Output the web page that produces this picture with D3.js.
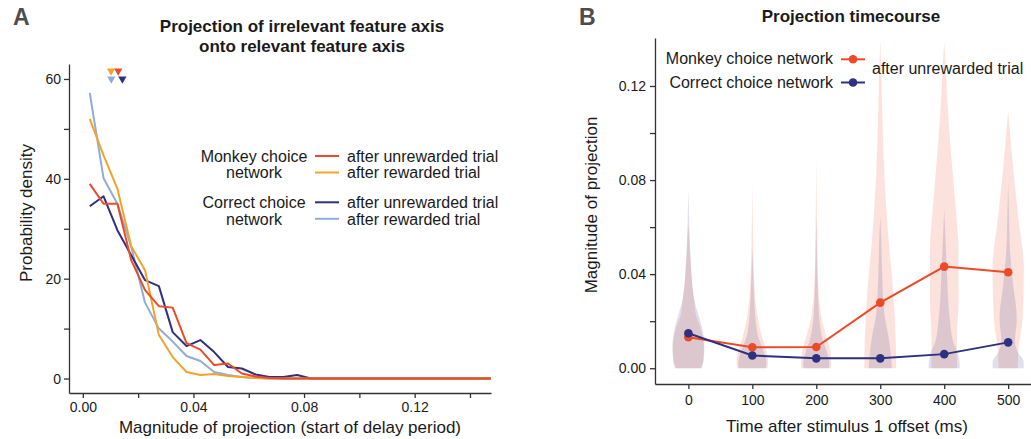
<!DOCTYPE html>
<html>
<head>
<meta charset="utf-8">
<script src="https://cdn.jsdelivr.net/npm/d3@7"></script>
<style>
  body { margin: 0; background: #fff; }
  text { font-family: "Liberation Sans", Arial, sans-serif; fill: #1a1a1a; }
  .axis .domain, .axis line { stroke: #333; stroke-width: 1.3; }
  .axis text { font-size: 14px; fill: #1a1a1a; }
</style>
</head>
<body>
<div id="chart"></div>
<script>
// ---- panel A data: density histograms (bin centers) ----
const binCenters = [0.0025, 0.0075, 0.0125, 0.0175, 0.0225, 0.0275, 0.0325, 0.0375, 0.0425, 0.0475,
  0.0525, 0.0575, 0.0625, 0.0675, 0.0725, 0.0775, 0.0825, 0.0875, 0.0925, 0.0975,
  0.1025, 0.1075, 0.1125, 0.1175, 0.1225, 0.1275, 0.1325, 0.1375, 0.1425, 0.1475];
const monkeyUnrewarded = [39, 35, 35, 23.7, 17.7, 14.5, 14.2, 7.1, 5.8, 2.7,
  3, 1, 0.4, 0.1, 0, 0, 0, 0, 0, 0, 0, 0, 0, 0, 0, 0, 0, 0, 0, 0];
const monkeyRewarded = [52, 44.7, 38, 26.5, 21.7, 8.7, 4.3, 1.3, 0.7, 0.9,
  0.5, 0.3, 0.1, 0, 0, 0, 0, 0, 0, 0, 0, 0, 0, 0, 0, 0, 0, 0, 0, 0];
const correctUnrewarded = [34.5, 36.5, 29.7, 24.7, 19.7, 18.5, 9.3, 6.5, 7.7, 5.3,
  2.3, 2, 0.8, 0.3, 0.3, 0.7, 0, 0, 0, 0, 0, 0, 0, 0, 0, 0, 0, 0, 0, 0];
const correctRewarded = [57.2, 40.1, 35, 26.4, 15.2, 10, 7.4, 4.5, 3.5, 1.3,
  0.7, 0.3, 0.1, 0, 0, 0, 0, 0, 0, 0, 0, 0, 0, 0, 0, 0, 0, 0, 0, 0];
// median markers (x value, plotted level)
const medianX = [0.0102, 0.0128, 0.0103, 0.0143]; // monkey rew, monkey unrew, correct rew, correct unrew
const medianLevel = [61.6, 61.6, 60.0, 60.0];
const xTicksA = [0, 0.04, 0.08, 0.12];
const xMinorA = [0.02, 0.06, 0.10, 0.14];
const yTicksA = [0, 20, 40, 60];
const yMinorA = [10, 30, 50];

// ---- panel B data ----
const times = [0, 100, 200, 300, 400, 500];
const monkeyMean = [0.0132, 0.0089, 0.0090, 0.0279, 0.0432, 0.0408];
const correctMean = [0.0149, 0.0054, 0.0042, 0.0042, 0.0060, 0.0110];
// violin profiles: [projection value, relative density]
const monkeyViolins = [
  [[0, 0.75], [0.0035, 0.94], [0.009, 0.97], [0.0163, 0.8], [0.0234, 0.45], [0.0276, 0.38], [0.035, 0.25], [0.042, 0.17], [0.05, 0.09], [0.056, 0.05], [0.061, 0]],
  [[0, 0.95], [0.0028, 0.99], [0.0077, 0.86], [0.0134, 0.6], [0.0205, 0.36], [0.03, 0.18], [0.04, 0.1], [0.055, 0.05], [0.0786, 0]],
  [[0, 0.92], [0.0015, 0.94], [0.0064, 0.9], [0.012, 0.69], [0.019, 0.4], [0.028, 0.2], [0.04, 0.1], [0.06, 0.05], [0.0893, 0]],
  [[0, 1.0], [0.012, 0.97], [0.033, 0.8], [0.0545, 0.52], [0.083, 0.25], [0.11, 0.12], [0.13, 0.05], [0.1396, 0]],
  [[0, 0.8], [0.0142, 0.8], [0.0283, 0.89], [0.0496, 0.89], [0.0708, 0.68], [0.092, 0.42], [0.1133, 0.2], [0.13, 0.08], [0.1388, 0]],
  [[0, 0.6], [0.007, 0.63], [0.0213, 0.9], [0.0425, 0.98], [0.0638, 0.64], [0.085, 0.31], [0.1, 0.12], [0.1094, 0]]
];
const correctViolins = [
  [[0, 0.85], [0.0035, 0.95], [0.009, 1.0], [0.0163, 0.88], [0.0234, 0.6], [0.0276, 0.42], [0.035, 0.25], [0.042, 0.18], [0.056, 0.08], [0.065, 0.04], [0.0765, 0]],
  [[0, 0.85], [0.0028, 0.88], [0.0077, 0.68], [0.0134, 0.36], [0.0205, 0.2], [0.03, 0.11], [0.04, 0.06], [0.0503, 0]],
  [[0, 0.8], [0.0015, 0.82], [0.0064, 0.69], [0.012, 0.4], [0.019, 0.22], [0.028, 0.12], [0.04, 0.07], [0.0638, 0]],
  [[0, 0.72], [0.0035, 0.69], [0.012, 0.55], [0.0234, 0.25], [0.04, 0.12], [0.055, 0.06], [0.0647, 0]],
  [[0, 0.97], [0.0015, 0.97], [0.0057, 0.88], [0.0113, 0.56], [0.0213, 0.34], [0.0425, 0.16], [0.055, 0.08], [0.068, 0]],
  [[0, 0.97], [0.0025, 0.97], [0.007, 0.6], [0.0113, 0.42], [0.0213, 0.54], [0.0354, 0.31], [0.0496, 0.12], [0.065, 0.05], [0.0793, 0]]
];
const xTicksB = [0, 100, 200, 300, 400, 500];
const yTicksB = [0, 0.04, 0.08, 0.12];
const yMinorB = [0.02, 0.06, 0.10];

const RED = "#ec4a28", ORANGE = "#f2a42a", NAVY = "#2e3080", LIGHTBLUE = "#8fadd9";

const svg = d3.select("#chart").append("svg").attr("width", 1031).attr("height", 439);

// =================== Panel A ===================
const xA = d3.scaleLinear().domain([-0.005, 0.1476]).range([69, 491]);
const yA = d3.scaleLinear().domain([-2.9, 63]).range([393, 64]);

svg.append("text").attr("x", 13).attr("y", 25).attr("font-size", 23).attr("font-weight", "bold")
  .style("fill", "#4d4d4d").text("A");
svg.append("text").attr("x", 302).attr("y", 32).attr("text-anchor", "middle")
  .attr("font-size", 17).attr("font-weight", "bold").text("Projection of irrelevant feature axis");
svg.append("text").attr("x", 302).attr("y", 52).attr("text-anchor", "middle")
  .attr("font-size", 17).attr("font-weight", "bold").text("onto relevant feature axis");

svg.append("g").attr("class", "axis").attr("transform", "translate(0,393)")
  .call(d3.axisBottom(xA).tickValues(xTicksA).tickFormat(d3.format(".2f")).tickSize(5).tickSizeOuter(0).tickPadding(4));
svg.append("g").attr("class", "axis").attr("transform", "translate(0,393)")
  .call(d3.axisBottom(xA).tickValues(xMinorA).tickFormat("").tickSize(5).tickSizeOuter(0))
  .select(".domain").remove();
svg.append("g").attr("class", "axis").attr("transform", "translate(69,0)")
  .call(d3.axisLeft(yA).tickValues(yTicksA).tickSize(5).tickSizeOuter(0).tickPadding(3));
svg.append("g").attr("class", "axis").attr("transform", "translate(69,0)")
  .call(d3.axisLeft(yA).tickValues(yMinorA).tickFormat("").tickSize(5).tickSizeOuter(0))
  .select(".domain").remove();

svg.append("text").attr("transform", "translate(32,213) rotate(-90)").attr("text-anchor", "middle")
  .attr("font-size", 17).text("Probability density");
svg.append("text").attr("x", 290).attr("y", 433).attr("text-anchor", "middle")
  .attr("font-size", 17).text("Magnitude of projection (start of delay period)");

const lineA = d3.line().x(d => xA(d[0])).y(d => yA(d[1]));
const seriesA = [
  {vals: correctRewarded, color: LIGHTBLUE},
  {vals: correctUnrewarded, color: NAVY},
  {vals: monkeyRewarded, color: ORANGE},
  {vals: monkeyUnrewarded, color: RED}
];
svg.append("g").selectAll("path").data(seriesA).join("path")
  .attr("d", s => lineA(binCenters.map((b, i) => [b, s.vals[i]])))
  .attr("fill", "none").attr("stroke", s => s.color).attr("stroke-width", 2)
  .attr("stroke-linejoin", "round");

const medColors = [ORANGE, RED, LIGHTBLUE, NAVY];
const tri = d3.symbol(d3.symbolTriangle, 30);
svg.append("g").selectAll("path").data(medianX).join("path")
  .attr("d", tri)
  .attr("transform", (d, i) => `translate(${xA(d)},${yA(medianLevel[i])}) rotate(180)`)
  .attr("fill", (d, i) => medColors[i]);

// legend A
const legA = svg.append("g");
const legGroups = [["Monkey choice", "network"], ["Correct choice", "network"]];
const legTrials = ["after unrewarded trial", "after rewarded trial"];
const legColors = [[RED, ORANGE], [NAVY, LIGHTBLUE]];
legGroups.forEach((g, gi) => {
  const y0 = 156 + gi * 46.3;
  g.forEach((t, li) => {
    legA.append("text").attr("x", 254).attr("y", y0 + 5.7 + li * 16.5).attr("text-anchor", "middle")
      .attr("font-size", 16).text(t);
  });
  legTrials.forEach((t, li) => {
    const yy = y0 + li * 16.5;
    legA.append("line").attr("x1", 315).attr("x2", 339).attr("y1", yy).attr("y2", yy)
      .attr("stroke", legColors[gi][li]).attr("stroke-width", 2);
    legA.append("text").attr("x", 347).attr("y", yy + 5.7).attr("font-size", 16).text(t);
  });
});

// =================== Panel B ===================
const xB = d3.scaleLinear().domain([-52.2, 535.7]).range([655, 1031]);
const yB = d3.scaleLinear().domain([-0.0067, 0.1404]).range([384, 38]);
const wB = d3.scaleLinear().domain([0, 1]).range([0, 16]);

svg.append("text").attr("x", 579).attr("y", 25).attr("font-size", 23).attr("font-weight", "bold")
  .style("fill", "#4d4d4d").text("B");
svg.append("text").attr("x", 851).attr("y", 22).attr("text-anchor", "middle")
  .attr("font-size", 17).attr("font-weight", "bold").text("Projection timecourse");

const violinArea = t => d3.area().curve(d3.curveMonotoneY)
  .y(d => yB(d[0])).x0(d => xB(t) - wB(d[1])).x1(d => xB(t) + wB(d[1]));

svg.append("g").selectAll("path").data(monkeyViolins).join("path")
  .attr("d", (v, i) => violinArea(times[i])(v))
  .attr("fill", RED).attr("fill-opacity", 0.16);
svg.append("g").selectAll("path").data(correctViolins).join("path")
  .attr("d", (v, i) => violinArea(times[i])(v))
  .attr("fill", NAVY).attr("fill-opacity", 0.15);

svg.append("g").attr("class", "axis").attr("transform", "translate(0,384)")
  .call(d3.axisBottom(xB).tickValues(xTicksB).tickSize(5).tickSizeOuter(0).tickPadding(6));
svg.append("g").attr("class", "axis").attr("transform", "translate(655,0)")
  .call(d3.axisLeft(yB).tickValues(yTicksB).tickFormat(d3.format(".2f")).tickSize(5).tickSizeOuter(0).tickPadding(4));
svg.append("g").attr("class", "axis").attr("transform", "translate(655,0)")
  .call(d3.axisLeft(yB).tickValues(yMinorB).tickFormat("").tickSize(5).tickSizeOuter(0))
  .select(".domain").remove();

svg.append("text").attr("transform", "translate(597,205) rotate(-90)").attr("text-anchor", "middle")
  .attr("font-size", 17).text("Magnitude of projection");
svg.append("text").attr("x", 847).attr("y", 432).attr("text-anchor", "middle")
  .attr("font-size", 17).text("Time after stimulus 1 offset (ms)");

const lineB = d3.line().x(d => xB(d[0])).y(d => yB(d[1]));
[[monkeyMean, RED], [correctMean, NAVY]].forEach(([vals, col]) => {
  const pts = times.map((t, i) => [t, vals[i]]);
  svg.append("path").attr("d", lineB(pts)).attr("fill", "none")
    .attr("stroke", col).attr("stroke-width", 2);
  svg.append("g").selectAll("circle").data(pts).join("circle")
    .attr("cx", d => xB(d[0])).attr("cy", d => yB(d[1])).attr("r", 4.3).attr("fill", col);
});

// legend B
const legB = [["Monkey choice network", RED, 59.3], ["Correct choice network", NAVY, 82.5]];
legB.forEach(([t, col, yy]) => {
  svg.append("text").attr("x", 833).attr("y", yy + 5).attr("text-anchor", "end")
    .attr("font-size", 16).text(t);
  svg.append("line").attr("x1", 841).attr("x2", 865).attr("y1", yy).attr("y2", yy)
    .attr("stroke", col).attr("stroke-width", 2);
  svg.append("circle").attr("cx", 853).attr("cy", yy).attr("r", 4.3).attr("fill", col);
});
svg.append("text").attr("x", 872).attr("y", 74).attr("font-size", 16).text("after unrewarded trial");
</script>
</body>
</html>
